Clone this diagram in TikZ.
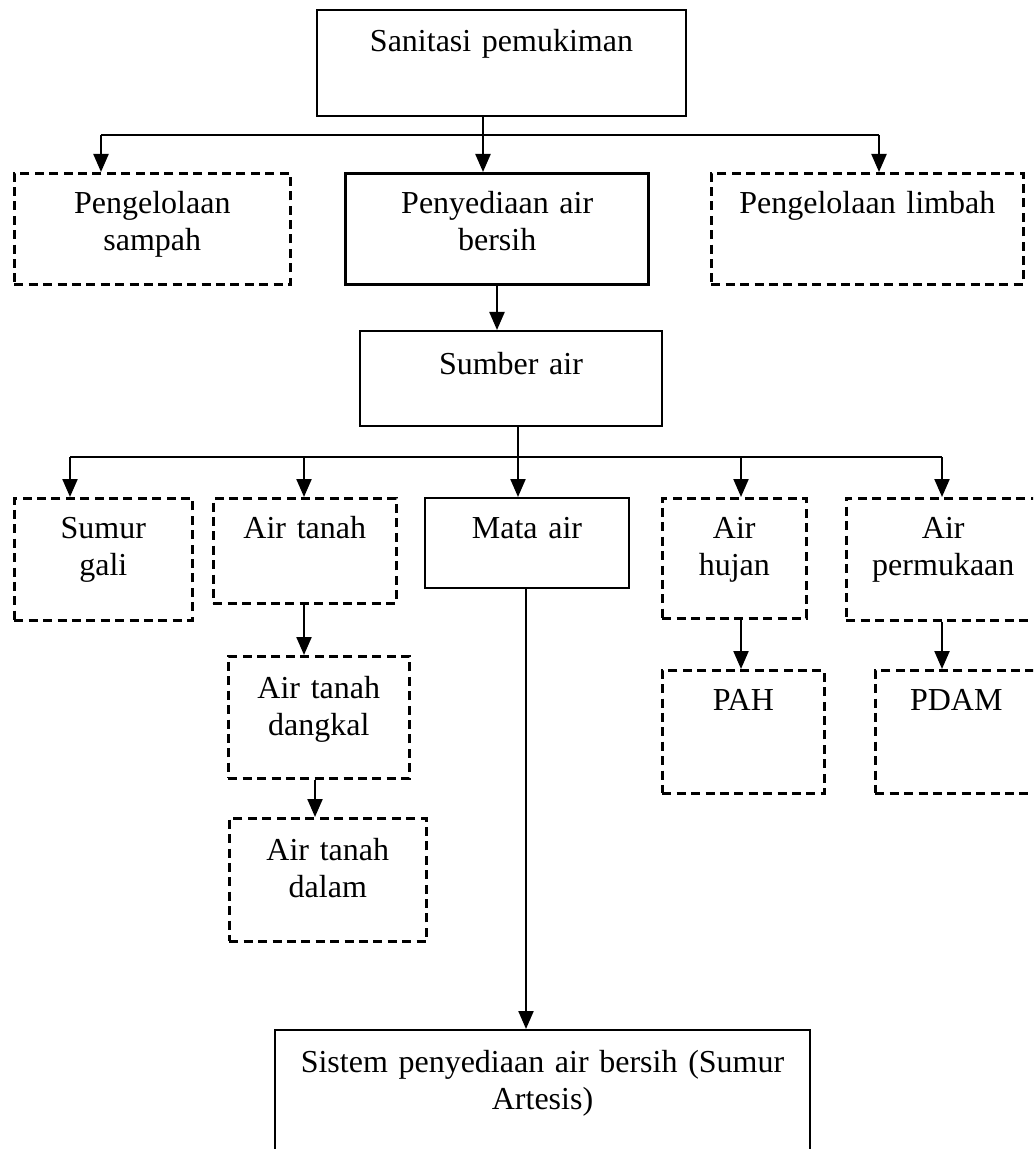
\documentclass[tikz,border=0pt]{standalone}
\usepackage{fontspec}
\setmainfont{Liberation Serif}
\usetikzlibrary{arrows.meta}

\begin{document}
\begin{tikzpicture}[x=0.5pt,y=-0.5pt,
  every node/.style={draw,line width=1pt,align=center,inner sep=0pt,anchor=north west,font=\fontsize{16}{18.5}\selectfont},
  putus/.style={line width=1.3pt,dash pattern=on 4.5pt off 2.7pt},
  tebal/.style={line width=1.7pt},
  garis/.style={line width=1.1pt},
  panah/.style={garis,-{Triangle[length=9pt,width=7.5pt]}}]
\clip (0,0) rectangle (1033,1149);

\node (san) at (316,9) [text width=184.5pt,text height=21pt,text depth=32pt] {Sanitasi pemukiman};
\node (sampah) at (13,172) [putus,text width=138pt,text height=20pt,text depth=35.5pt] {Pengelolaan\\sampah};
\node (pab) at (344,172) [tebal,text width=151.5pt,text height=20pt,text depth=35.5pt] {Penyediaan air\\bersih};
\node (limbah) at (710,172) [putus,text width=156pt,text height=20pt,text depth=35.5pt] {Pengelolaan limbah};
\node (sumber) at (359,330) [text width=151pt,text height=22pt,text depth=25.5pt] {Sumber air};
\node (sumur) at (13,497) [putus,text width=89pt,text height=20pt,text depth=41pt] {Sumur\\gali};
\node (tanah) at (212,497) [putus,text width=91.5pt,text height=20pt,text depth=32.5pt] {Air tanah};
\node (mata) at (424,497) [text width=102pt,text height=20pt,text depth=25pt] {Mata air};
\node (hujan) at (661,497) [putus,text width=72pt,text height=20pt,text depth=40pt] {Air\\hujan};
\node (permukaan) at (845,497) [putus,text width=97pt,text height=20pt,text depth=41pt] {Air\\permukaan};
\node (dangkal) at (227,655) [putus,text width=90.5pt,text height=21pt,text depth=40pt] {Air tanah\\dangkal};
\node (dalam) at (228,817) [putus,text width=98.5pt,text height=21pt,text depth=40.5pt] {Air tanah\\dalam};
\node (pah) at (661,669) [putus,text width=81pt,text height=20pt,text depth=41.5pt] {PAH};
\node (pdam) at (874,669) [putus,text width=81pt,text height=20pt,text depth=41.5pt] {PDAM};
\node (sistem) at (274,1029) [text width=267.5pt,text height=21pt,text depth=64.5pt] {Sistem penyediaan air bersih (Sumur\\Artesis)};

% cabang pertama
\coordinate (t1) at (483,135);
\coordinate (k1) at (101,135);
\coordinate (k3) at (879,135);
\draw[garis] (san.south -| t1) -- (t1);
\draw[garis] (k1) -- (k3);
\draw[panah] (k1) -- (k1 |- sampah.north);
\draw[panah] (t1) -- (t1 |- pab.north);
\draw[panah] (k3) -- (k3 |- limbah.north);

\coordinate (t2) at (497,0);
\draw[panah] (pab.south -| t2) -- (sumber.north -| t2);

% cabang sumber air
\coordinate (t3) at (518,457);
\coordinate (c1) at (70,457);
\coordinate (c2) at (304,457);
\coordinate (c4) at (741,457);
\coordinate (c5) at (942,457);
\draw[garis] (sumber.south -| t3) -- (t3);
\draw[garis] (c1) -- (c5);
\draw[panah] (c1) -- (c1 |- sumur.north);
\draw[panah] (c2) -- (c2 |- tanah.north);
\draw[panah] (t3) -- (t3 |- mata.north);
\draw[panah] (c4) -- (c4 |- hujan.north);
\draw[panah] (c5) -- (c5 |- permukaan.north);

\coordinate (c6) at (315,0);
\coordinate (c7) at (526,0);
\draw[panah] (tanah.south -| c2) -- (dangkal.north -| c2);
\draw[panah] (dangkal.south -| c6) -- (dalam.north -| c6);
\draw[panah] (mata.south -| c7) -- (sistem.north -| c7);
\draw[panah] (hujan.south -| c4) -- (pah.north -| c4);
\draw[panah] (permukaan.south -| c5) -- (pdam.north -| c5);
\end{tikzpicture}
\end{document}
